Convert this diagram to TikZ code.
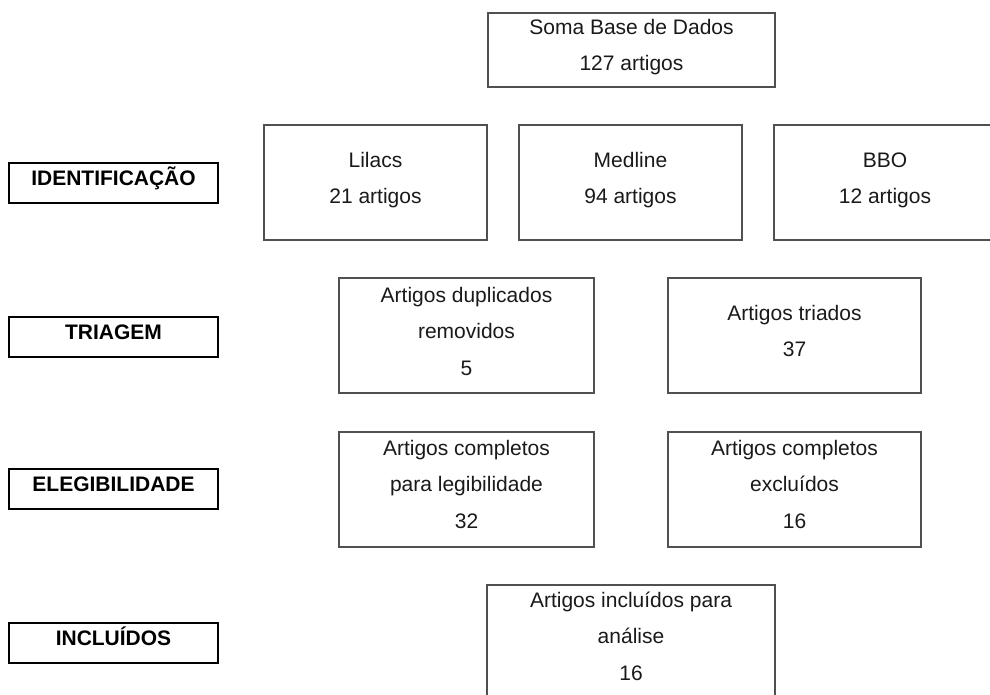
\documentclass[tikz,border=0pt]{standalone}
\usepackage{fontspec}
\setmainfont{Liberation Sans}
\definecolor{boxgray}{HTML}{505050}
\definecolor{txtcol}{HTML}{1A1A1A}
\tikzset{
  box/.style={draw=boxgray, line width=1.2pt, inner sep=0pt, outer sep=0pt, anchor=north west},
  lab/.style={draw=black, line width=2.2pt, inner sep=0pt, outer sep=0pt, anchor=north west,
              minimum width=209pt, minimum height=40pt},
  txt/.style={align=center, font=\fontsize{21}{36.5}\selectfont, text=txtcol, inner sep=0pt, anchor=base},
  labtxt/.style={font=\bfseries\fontsize{21}{25}\selectfont, text=black, inner sep=0pt, anchor=base}
}
\begin{document}
\begin{tikzpicture}[x=1pt,y=-1pt]
\useasboundingbox[fill=white] (0,0) rectangle (990,694);
% main boxes
\node[box, minimum width=287pt, minimum height=74pt]  (soma)    at (488,13)  {};
\node[box, minimum width=223pt, minimum height=115pt] (lilacs)  at (264,125) {};
\node[box, minimum width=223pt, minimum height=115pt] (medline) at (519,125) {};
\node[box, minimum width=222pt, minimum height=115pt] (bbo)     at (774,125) {};
\node[box, minimum width=255pt, minimum height=115pt] (dup)     at (339,278) {};
\node[box, minimum width=253pt, minimum height=115pt] (triad)   at (668,278) {};
\node[box, minimum width=255pt, minimum height=115pt] (legib)   at (339,432) {};
\node[box, minimum width=253pt, minimum height=115pt] (excl)    at (668,432) {};
\node[box, minimum width=288pt, minimum height=115pt] (incl)    at (487,585) {};
% texts (base anchor = baseline of the last line)
\node[txt] (soma-t)    at ([yshift=-57.5pt]soma.north)    {Soma Base de Dados\\127 artigos};
\node[txt] (lilacs-t)  at ([yshift=-78.5pt]lilacs.north)  {Lilacs\\21 artigos};
\node[txt] (medline-t) at ([yshift=-78.5pt]medline.north) {Medline\\94 artigos};
\node[txt] (bbo-t)     at ([yshift=-78.5pt]bbo.north)     {BBO\\12 artigos};
\node[txt] (dup-t)     at ([yshift=-97pt]dup.north)       {Artigos duplicados\\removidos\\5};
\node[txt] (triad-t)   at ([yshift=-78.5pt]triad.north)   {Artigos triados\\37};
\node[txt] (legib-t)   at ([yshift=-96pt]legib.north)     {Artigos completos\\para legibilidade\\32};
\node[txt] (excl-t)    at ([yshift=-96pt]excl.north)      {Artigos completos\\excluídos\\16};
\node[txt] (incl-t)    at ([yshift=-95pt]incl.north)      {Artigos incluídos para\\análise\\16};
% stage labels
\node[lab] (ident) at (9,163) {};
\node[lab] (triag) at (9,317) {};
\node[lab] (eleg)  at (9,469) {};
\node[lab] (inclu) at (9,623) {};
\node[labtxt] (ident-t) at ([yshift=-22pt]ident.north) {IDENTIFICAÇÃO};
\node[labtxt] (triag-t) at ([yshift=-22pt]triag.north) {TRIAGEM};
\node[labtxt] (eleg-t)  at ([yshift=-22pt]eleg.north)  {ELEGIBILIDADE};
\node[labtxt] (inclu-t) at ([yshift=-22pt]inclu.north) {INCLUÍDOS};
\end{tikzpicture}
\end{document}
